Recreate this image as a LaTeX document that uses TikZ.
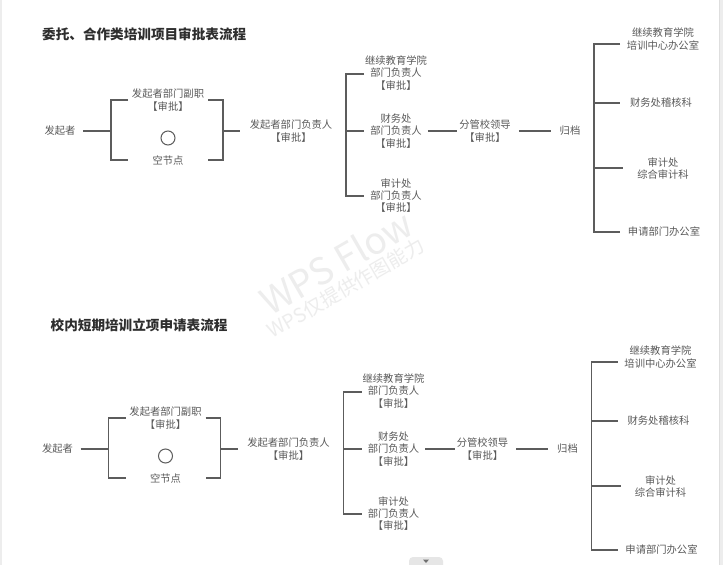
\documentclass[tikz,border=0pt]{standalone}
\usepackage{fontspec}
\setmainfont{Noto Sans CJK SC}
\definecolor{linec}{HTML}{5C5C5C}
\definecolor{txtc}{HTML}{595959}
\definecolor{ttlc}{HTML}{2E2E2E}
\definecolor{wmc}{HTML}{EDEDED}
\definecolor{edgec}{HTML}{EDEDED}
\definecolor{edgeline}{HTML}{DEDEDE}
\definecolor{tabc}{HTML}{E6E6E6}
\definecolor{tabtri}{HTML}{707070}
\tikzset{
  txt/.style={text=txtc, align=center, inner sep=0pt, font=\fontsize{10.3}{12.3}\selectfont},
  ttl/.style={text=ttlc, anchor=west, inner sep=0pt, font=\fontsize{13.6}{16}\selectfont\bfseries},
  ln/.style={draw=linec, line width=1.4pt},
  circ/.style={draw=linec, line width=1pt, circle, minimum size=14pt, inner sep=0pt},
  wmark/.style={text=wmc, rotate=30, inner sep=0pt},
}
\newcommand\flowpart[1]{%
  \node[txt] (#1-a) at (60,131) {发起者};
  \node[txt] (#1-b) at (168,100) {发起者部门副职\\【审批】};
  \node[circ] (#1-o) at (168,138) {};
  \node[txt] (#1-c) at (168,161) {空节点};
  \node[txt] (#1-d) at (291,131) {发起者部门负责人\\【审批】};
  \node[txt] (#1-e1) at (396,73) {继续教育学院\\部门负责人\\【审批】};
  \node[txt] (#1-e2) at (396,131) {财务处\\部门负责人\\【审批】};
  \node[txt] (#1-e3) at (396,195.5) {审计处\\部门负责人\\【审批】};
  \node[txt] (#1-f) at (485,131) {分管校领导\\【审批】};
  \node[txt] (#1-g) at (570,131) {归档};
  \node[txt] (#1-h1) at (663,39) {继续教育学院\\培训中心办公室};
  \node[txt] (#1-h2) at (661,103) {财务处稽核科};
  \node[txt] (#1-h3) at (663,168.5) {审计处\\综合审计科};
  \node[txt] (#1-h4) at (664,232) {申请部门办公室};
  % bracket corners and joints
  \coordinate (#1-L1a) at (111,100);
  \coordinate (#1-L1b) at (111,160);
  \coordinate (#1-L1m) at (111,131);
  \coordinate (#1-s1) at (128,100);
  \coordinate (#1-s2) at (128,160);
  \coordinate (#1-R1a) at (223,100);
  \coordinate (#1-R1b) at (223,160);
  \coordinate (#1-R1m) at (223,131);
  \coordinate (#1-s3) at (208,100);
  \coordinate (#1-s4) at (208,160);
  \coordinate (#1-B2a) at (346,74);
  \coordinate (#1-B2b) at (346,196);
  \coordinate (#1-B2m) at (346,131);
  \coordinate (#1-t1) at (364,74);
  \coordinate (#1-t2) at (364,131);
  \coordinate (#1-t3) at (364,196);
  \coordinate (#1-B3a) at (594,44);
  \coordinate (#1-B3c) at (594,103);
  \coordinate (#1-B3d) at (594,168);
  \coordinate (#1-B3b) at (594,232);
  \coordinate (#1-u1) at (620,44);
  \coordinate (#1-u2) at (620,103);
  \coordinate (#1-u3) at (623,168);
  \coordinate (#1-u4) at (620,232);
  % connectors
  \draw[ln] ([xshift=7.5]#1-a.east) -- (#1-L1m);
  \draw[ln] (#1-s1) -- (#1-L1a) -- (#1-L1b) -- (#1-s2);
  \draw[ln] (#1-s3) -- (#1-R1a) -- (#1-R1b) -- (#1-s4);
  \draw[ln] (#1-R1m) -- ([xshift=-9.5]#1-d.west);
  \draw[ln] (#1-t1) -- (#1-B2a) -- (#1-B2b) -- (#1-t3);
  \draw[ln] (#1-B2m) -- (#1-t2);
  \draw[ln] ([xshift=6]#1-e2.east) -- ([xshift=-2]#1-f.west);
  \draw[ln] ([xshift=8]#1-f.east) -- ([xshift=-9]#1-g.west);
  \draw[ln] (#1-u1) -- (#1-B3a) -- (#1-B3b) -- (#1-u4);
  \draw[ln] (#1-B3c) -- (#1-u2);
  \draw[ln] (#1-B3d) -- (#1-u3);
}
\begin{document}
\begin{tikzpicture}[x=1pt,y=-1pt]
  \useasboundingbox (0,0) rectangle (723,565);
  \fill[white] (0,0) rectangle (723,565);
  % page edges
  \fill[edgec] (0,0) rectangle (1.5,565);
  \fill[edgec] (719.5,0) rectangle (723,565);
  \draw[edgeline, line width=0.8pt] (719.5,0) -- (719.5,565);
  % watermark
  \node[wmark, font=\fontsize{37}{37}\selectfont] (wm1) at (336,262) {WPS Flow};
  \node[wmark, font=\fontsize{19.5}{20}\selectfont] (wm2) at (346,288) {WPS仅提供作图能力};
  % titles
  \node[ttl] (title1) at (42,34) {委托、合作类培训项目审批表流程};
  \node[ttl] (title2) at (50.5,325) {校内短期培训立项申请表流程};
  % the two flows
  \begin{scope}
    \flowpart{top}
  \end{scope}
  \begin{scope}[shift={(-2.5,318)}]
    \flowpart{bot}
  \end{scope}
  % bottom tab
  \fill[tabc] (409,566) [rounded corners=4pt] -- (409,557) -- (443,557) [sharp corners] -- (443,566) -- cycle;
  \fill[tabtri] (423,559.5) -- (429,559.5) -- (426,563) -- cycle;
\end{tikzpicture}
\end{document}
